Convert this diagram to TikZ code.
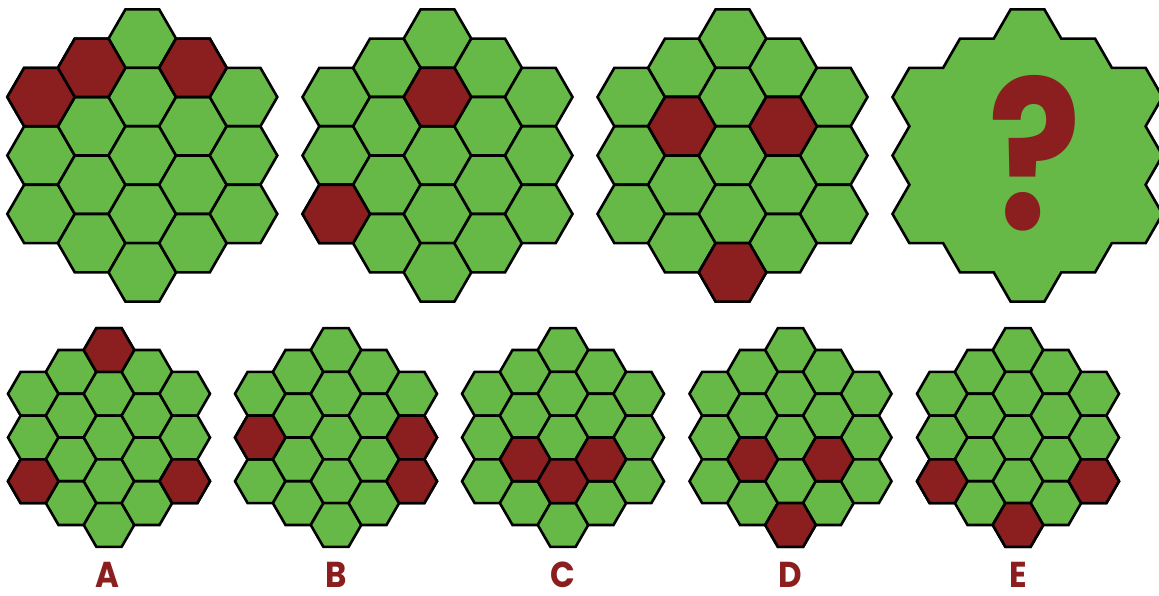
\documentclass[tikz,border=0pt]{standalone}
\usepackage{fontspec}
\newfontfamily\labfont{Poppins}
\definecolor{hexgreen}{HTML}{66B847}
\definecolor{hexred}{HTML}{8B1E1E}
\tikzset{
  hexline/.style={draw=black,line width=2.6pt},
  letterlabel/.style={text=hexred,font=\labfont\bfseries\fontsize{36}{36}\selectfont,inner sep=0pt,xscale=0.9},
}
\newcommand\hexpath[3]{({#1+#3},{#2}) -- ({#1+0.5*#3},{#2-0.8660254*#3}) -- ({#1-0.5*#3},{#2-0.8660254*#3}) -- ({#1-#3},{#2}) -- ({#1-0.5*#3},{#2+0.8660254*#3}) -- ({#1+0.5*#3},{#2+0.8660254*#3}) -- cycle}
\newcommand\hexcell[4]{\filldraw[hexline,fill=#4] \hexpath{#1}{#2}{#3};}
\newcommand\hexgrid[4]{%
  \foreach \q in {-2,...,2}{%
    \pgfmathtruncatemacro\nn{5-abs(\q)}%
    \foreach \i in {1,...,\nn}{%
      \pgfmathsetmacro\px{#1+1.5*#3*\q}%
      \pgfmathsetmacro\py{#2+1.7320508*#3*(\i-1-(\nn-1)/2)}%
      \hexcell{\px}{\py}{#3}{hexgreen}}}%
  \foreach \q/\i in {#4}{%
    \pgfmathtruncatemacro\nn{5-abs(\q)}%
    \pgfmathsetmacro\px{#1+1.5*#3*\q}%
    \pgfmathsetmacro\py{#2+1.7320508*#3*(\i-(\nn-1)/2)}%
    \hexcell{\px}{\py}{#3}{hexred}}}
\def\hexh{1.7320508}
\begin{document}
\begin{tikzpicture}[x=1pt,y=-1pt]
\fill[white] (0,0) rectangle (1159,596);
\useasboundingbox (0,0) rectangle (1159,596);
% top row
\hexgrid{142.3}{155.5}{33.75}{-2/0,-1/0,1/0}
\hexgrid{437.5}{155.5}{33.75}{0/1,-2/2}
\hexgrid{732.5}{155.5}{33.75}{-1/1,1/1,0/4}
\begin{scope}[shift={(1027.5,155.5)},x=33.75pt,y=-33.75pt]
\filldraw[hexline,fill=hexgreen]
 (-0.5,-2.5*\hexh) -- (0.5,-2.5*\hexh) -- (1,-2*\hexh) -- (2,-2*\hexh) -- (2.5,-1.5*\hexh) -- (3.5,-1.5*\hexh)
 -- (4,-\hexh) -- (3.5,-0.5*\hexh) -- (4,0) -- (3.5,0.5*\hexh) -- (4,\hexh) -- (3.5,1.5*\hexh)
 -- (2.5,1.5*\hexh) -- (2,2*\hexh) -- (1,2*\hexh) -- (0.5,2.5*\hexh) -- (-0.5,2.5*\hexh) -- (-1,2*\hexh)
 -- (-2,2*\hexh) -- (-2.5,1.5*\hexh) -- (-3.5,1.5*\hexh) -- (-4,\hexh) -- (-3.5,0.5*\hexh) -- (-4,0)
 -- (-3.5,-0.5*\hexh) -- (-4,-\hexh) -- (-3.5,-1.5*\hexh) -- (-2.5,-1.5*\hexh) -- (-2,-2*\hexh) -- (-1,-2*\hexh) -- cycle;
\end{scope}
\node[text=hexred,font=\labfont\bfseries\fontsize{208}{208}\selectfont,inner sep=0pt,xscale=0.83] (qm) at (1035,153) {?};
% bottom row
\hexgrid{109}{437.5}{25.25}{0/0,-2/2,2/2}
\hexgrid{336}{437.5}{25.25}{-2/1,2/1,2/2}
\hexgrid{563}{437.5}{25.25}{-1/2,0/3,1/2}
\hexgrid{790.5}{437.5}{25.25}{-1/2,1/2,0/4}
\hexgrid{1018}{437.5}{25.25}{-2/2,2/2,0/4}
\node[letterlabel] (la) at (107,575) {A};
\node[letterlabel] (lb) at (336,575) {B};
\node[letterlabel] (lc) at (563,575) {C};
\node[letterlabel] (ld) at (790.5,575) {D};
\node[letterlabel] (le) at (1018,575) {E};
\end{tikzpicture}
\end{document}
